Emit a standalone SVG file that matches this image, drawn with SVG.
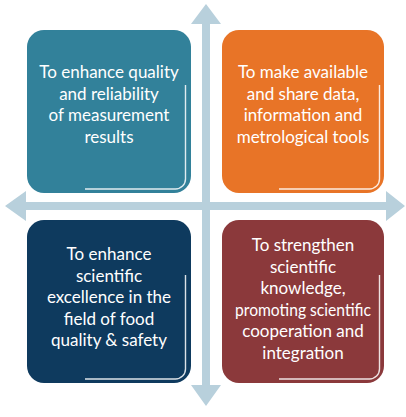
<svg xmlns="http://www.w3.org/2000/svg" width="406" height="417" viewBox="0 0 406 417">
<style>
.box{stroke:none}
.hl{fill:none;stroke:#ffffff;stroke-width:1.4;opacity:0.85}
.t{font-family:Lato,"Open Sans",sans-serif;font-size:17px;fill:#ffffff;text-anchor:middle}
.arr{fill:#B8D0DC}
</style>
<rect width="406" height="417" fill="#ffffff"/>
<g id="connectors">
<path class="arr" d="M202,24 H191 L206,4 L221,24 H210 V385 H221 L206,406 L191,385 H202 Z"/>
<path class="arr" d="M26,202 V191 L5,206 L26,221 V210 H386 V221 L405,206 L386,191 V202 Z"/>
</g>
<g id="node-tl">
<rect class="box" x="27" y="30" width="164" height="163" rx="17" fill="#32819A"/>
<path class="hl" d="M185.5,85 V179 A10,10 0 0 1 175.5,189 H85"/>
<text class="t"><tspan x="109" y="78">To enhance quality</tspan><tspan x="109" y="99.5">and reliability</tspan><tspan x="109" y="121">of measurement</tspan><tspan x="109" y="142.5">results</tspan></text>
</g>
<g id="node-tr">
<rect class="box" x="222" y="30" width="162" height="163" rx="17" fill="#E87427"/>
<path class="hl" d="M379.5,85 V179 A10,10 0 0 1 369.5,189 H279"/>
<text class="t"><tspan x="303" y="78">To make available</tspan><tspan x="303" y="99.5">and share data,</tspan><tspan x="303" y="121">information and</tspan><tspan x="303" y="142.5">metrological tools</tspan></text>
</g>
<g id="node-bl">
<rect class="box" x="27" y="220" width="164" height="163" rx="17" fill="#0E3A5E"/>
<path class="hl" d="M185.5,275 V369 A10,10 0 0 1 175.5,379 H85"/>
<text class="t"><tspan x="109" y="260">To enhance</tspan><tspan x="109" y="281.5">scientific</tspan><tspan x="109" y="303">excellence in the</tspan><tspan x="109" y="324.5">field of food</tspan><tspan x="109" y="346">quality &amp; safety</tspan></text>
</g>
<g id="node-br">
<rect class="box" x="222" y="220" width="162" height="163" rx="17" fill="#8B393B"/>
<path class="hl" d="M379.5,275 V369 A10,10 0 0 1 369.5,379 H279"/>
<text class="t"><tspan x="303" y="251">To strengthen</tspan><tspan x="303" y="272.5">scientific</tspan><tspan x="303" y="294">knowledge,</tspan></text>
<text class="t" x="303" y="315.5" textLength="136" lengthAdjust="spacingAndGlyphs">promoting scientific</text>
<text class="t"><tspan x="303" y="337">cooperation and</tspan><tspan x="303" y="358.5">integration</tspan></text>
</g>
</svg>
